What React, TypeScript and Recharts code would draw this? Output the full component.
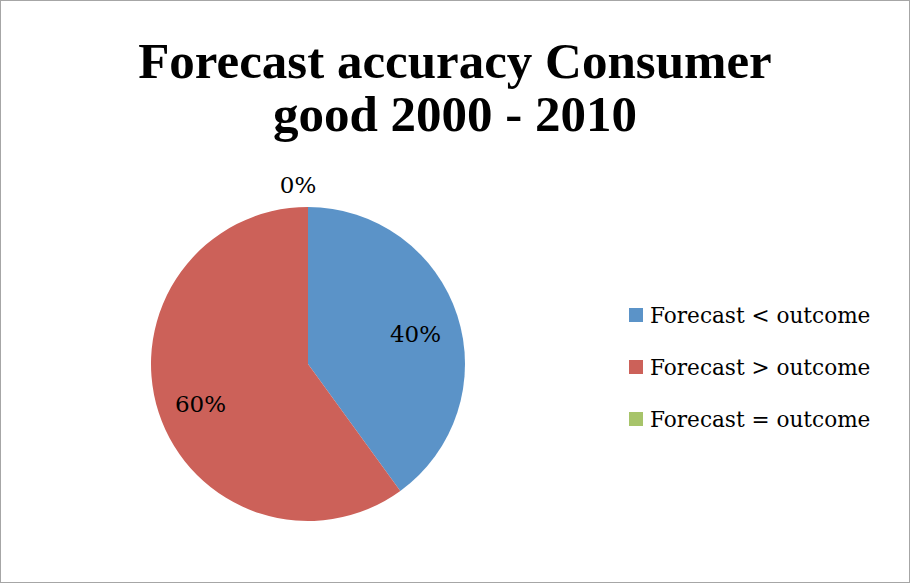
import { Cell, Legend, Pie, PieChart } from "recharts";

const categories = ["Forecast < outcome", "Forecast > outcome", "Forecast = outcome"];
const shares = [40, 60, 0];
const colors = ["#5b93c8", "#cc6159", "#a7c46a"];

const data = categories.map((name, i) => ({ name, value: shares[i] }));

const FONT = "'DejaVu Serif', serif";
const TITLE_FONT = "'Liberation Serif', serif";
const RAD = Math.PI / 180;

function renderLabel(props: any) {
  const { cx, cy, midAngle, outerRadius, value } = props;
  const r = value === 0 ? outerRadius + 22 : outerRadius * 0.72;
  const x = cx + r * Math.cos(-midAngle * RAD) - (value === 0 ? 10 : 0);
  // Excel nudges the label a bit lower than the mid-angle point
  const y = cy + r * Math.sin(-midAngle * RAD) + (value === 0 ? 0 : 5);
  return (
    <text
      x={x}
      y={y}
      textAnchor="middle"
      dominantBaseline="central"
      fill="#000"
      fontSize={23}
      fontFamily={FONT}
    >
      {`${value}%`}
    </text>
  );
}

function LegendBox() {
  return (
    <div style={{ fontFamily: FONT, fontSize: 21.6, color: "#000" }}>
      {data.map((d, i) => (
        <div key={d.name} style={{ display: "flex", alignItems: "center", height: 52 }}>
          <span
            style={{
              display: "inline-block",
              width: 14,
              height: 14,
              background: colors[i],
              marginRight: 7,
            }}
          />
          {d.name}
        </div>
      ))}
    </div>
  );
}

export default function App() {
  return (
    <div
      style={{
        position: "absolute",
        left: 0,
        top: 0,
        width: 908,
        height: 581,
        border: "1px solid #a6a6a6",
        background: "#fff",
      }}
    >
      <div
        style={{
          position: "absolute",
          left: 0,
          top: 34,
          width: 908,
          textAlign: "center",
          fontFamily: TITLE_FONT,
          fontWeight: "bold",
          fontSize: 51,
          lineHeight: "53px",
        }}
      >
        Forecast accuracy Consumer
        <br />
        good 2000 - 2010
      </div>
      <PieChart
        width={908}
        height={581}
        margin={{ top: 0, right: 0, bottom: 0, left: 0 }}
        style={{ position: "absolute", left: 0, top: 0 }}
      >
        <Pie
          data={data}
          dataKey="value"
          nameKey="name"
          cx={307}
          cy={363}
          outerRadius={157}
          startAngle={90}
          endAngle={-270}
          stroke="none"
          label={renderLabel}
          labelLine={false}
          isAnimationActive={false}
        >
          {data.map((d, i) => (
            <Cell key={d.name} fill={colors[i]} />
          ))}
        </Pie>
        <Legend
          content={() => <LegendBox />}
          wrapperStyle={{ position: "absolute", left: 628, top: 288, width: 280 }}
        />
      </PieChart>
    </div>
  );
}
